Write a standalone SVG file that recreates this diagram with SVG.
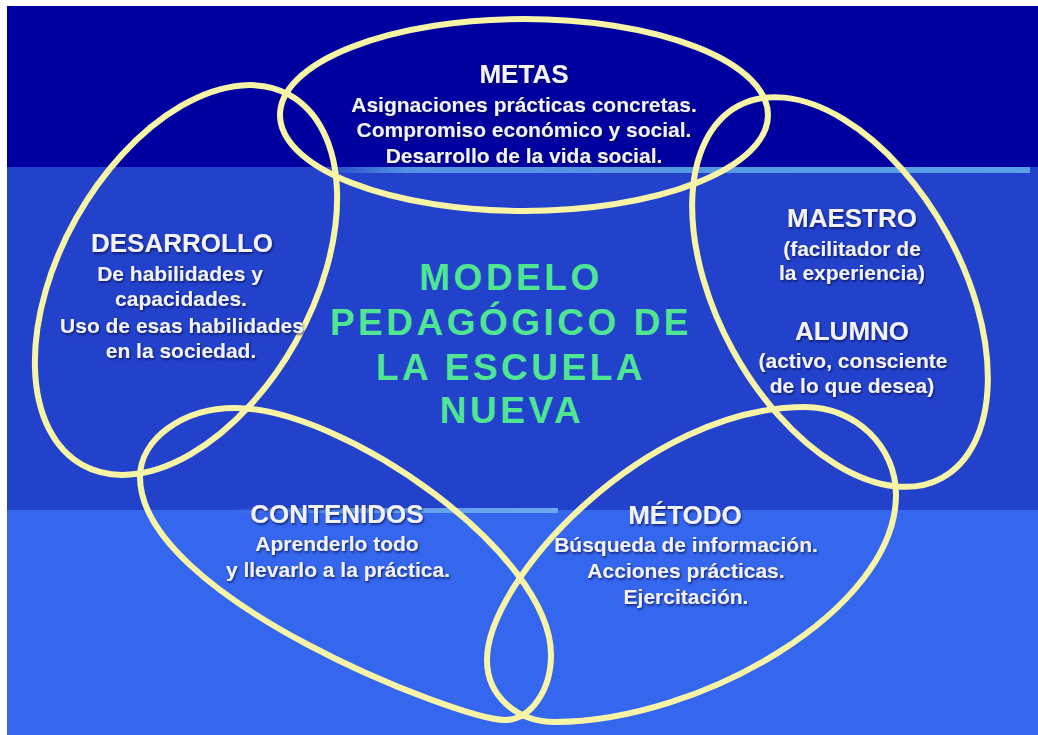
<svg xmlns="http://www.w3.org/2000/svg" width="1038" height="735" viewBox="0 0 1038 735">
<defs>
<linearGradient id="stripe1" x1="0" y1="0" x2="1" y2="0">
<stop offset="0" stop-color="#5aa0e6" stop-opacity="0"/>
<stop offset="0.12" stop-color="#5aa0e6" stop-opacity="0.85"/>
<stop offset="1" stop-color="#5aa0e6" stop-opacity="1"/>
</linearGradient>
<linearGradient id="stripe2" x1="0" y1="0" x2="1" y2="0">
<stop offset="0" stop-color="#6aaaf0" stop-opacity="0"/>
<stop offset="0.4" stop-color="#6aaaf0" stop-opacity="0.8"/>
<stop offset="1" stop-color="#6aaaf0" stop-opacity="1"/>
</linearGradient>
<filter id="shadow" x="-10%" y="-30%" width="120%" height="160%">
<feDropShadow dx="1" dy="1.5" stdDeviation="1" flood-color="#000030" flood-opacity="0.7"/>
</filter>
</defs>
<style>
.ring{fill:none;stroke:#f8f4a6;stroke-width:6;stroke-linejoin:round}
.hd{font-family:"Liberation Sans",Arial,sans-serif;font-weight:bold;font-size:26px;fill:#f2f2fa;text-anchor:middle;filter:url(#shadow)}
.tx{font-family:"Liberation Sans",Arial,sans-serif;font-weight:bold;font-size:21px;fill:#f2f2fa;text-anchor:middle;filter:url(#shadow)}
.title{font-family:"Liberation Sans",Arial,sans-serif;font-weight:bold;font-size:37px;fill:#4fe592;text-anchor:middle;letter-spacing:3.5px}
</style>
<rect x="0" y="0" width="1038" height="735" fill="#ffffff"/>
<rect x="7" y="6" width="1031" height="161" fill="#0000a0"/>
<rect x="7" y="167" width="1031" height="343" fill="#2242cc"/>
<rect x="7" y="510" width="1031" height="225" fill="#3466ee"/>
<rect x="320" y="167" width="710" height="6" fill="url(#stripe1)"/>
<rect x="230" y="508" width="328" height="5" fill="url(#stripe2)"/>

<g id="desarrollo">
<ellipse class="ring" cx="186" cy="280" rx="212" ry="126" transform="rotate(-60.7 186 280)"/>
<text class="hd" x="182" y="252">DESARROLLO</text>
<text class="tx" x="180" y="281">De habilidades y</text>
<text class="tx" x="181" y="306">capacidades.</text>
<text class="tx" x="182" y="333">Uso de esas habilidades</text>
<text class="tx" x="181" y="358">en la sociedad.</text>
</g>

<g id="maestro-alumno">
<ellipse class="ring" cx="840" cy="292" rx="212" ry="122" transform="rotate(61.2 840 292)"/>
<text class="hd" x="852" y="227">MAESTRO</text>
<text class="tx" x="852" y="256">(facilitador de</text>
<text class="tx" x="852" y="280">la experiencia)</text>
<text class="hd" x="852" y="340">ALUMNO</text>
<text class="tx" x="853" y="368">(activo, consciente</text>
<text class="tx" x="852" y="393">de lo que desea)</text>
</g>

<g id="contenidos">
<path class="ring" d="M140 477 C140 439 183 408 235 408 C343 408 551 553 551 655 C551 691 530 720 505 720 C460 720 140 597 140 477 Z"/>
<text class="hd" x="337" y="523">CONTENIDOS</text>
<text class="tx" x="337" y="551">Aprenderlo todo</text>
<text class="tx" x="338" y="577">y llevarlo a la práctica.</text>
</g>

<g id="metodo">
<path class="ring" d="M805 407 C855 407 896 446 896 495 C896 610 699.5 722 555 722 C517.5 722 487 696.5 487 660 C487 580 645 407 805 407 Z"/>
<text class="hd" x="685" y="524">MÉTODO</text>
<text class="tx" x="686" y="552">Búsqueda de información.</text>
<text class="tx" x="686" y="578">Acciones prácticas.</text>
<text class="tx" x="686" y="604">Ejercitación.</text>
</g>

<g id="metas">
<ellipse class="ring" cx="524" cy="115" rx="244" ry="96"/>
<text class="hd" x="524" y="83">METAS</text>
<text class="tx" x="524" y="112">Asignaciones prácticas concretas.</text>
<text class="tx" x="524" y="137">Compromiso económico y social.</text>
<text class="tx" x="524" y="163">Desarrollo de la vida social.</text>
</g>

<g id="titulo">
<text class="title" x="511" y="290">MODELO</text>
<text class="title" x="511" y="335">PEDAGÓGICO DE</text>
<text class="title" x="511" y="380">LA ESCUELA</text>
<text class="title" x="512" y="423">NUEVA</text>
</g>
</svg>
